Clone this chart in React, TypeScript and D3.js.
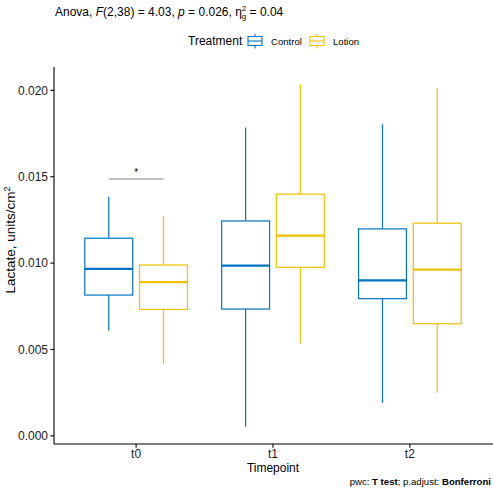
import React from "react";
import * as d3 from "d3";

const timepoints = ["t0", "t1", "t2"];
const treatments = ["Control", "Lotion"];
const colors = ["#0073C2", "#EFC000"];

// [whiskerLow, Q1, median, Q3, whiskerHigh] per timepoint
const controlStats = [
  [0.00608, 0.00815, 0.00966, 0.01144, 0.01385],
  [0.00052, 0.00734, 0.00985, 0.01244, 0.01785],
  [0.00191, 0.00794, 0.00900, 0.01198, 0.01804],
];
const lotionStats = [
  [0.00415, 0.00732, 0.00890, 0.00989, 0.01273],
  [0.00535, 0.00976, 0.01159, 0.01399, 0.02036],
  [0.00249, 0.00649, 0.00962, 0.01231, 0.02013],
];
const yTicks = [0, 0.005, 0.01, 0.015, 0.02];
const sigBar = { timepoint: "t0", y: 0.01487, label: "*" };

const W = 493;
const H = 491;
const panel = { left: 54, right: 492, top: 67, bottom: 444 };
const font = "'Liberation Sans', Arial, Helvetica, sans-serif";

export default function App() {
  const allVals = [...controlStats.flat(), ...lotionStats.flat()];
  const mn = d3.min(allVals) as number;
  const mx = d3.max(allVals) as number;
  const pad = (mx - mn) * 0.05;
  const y = d3.scaleLinear().domain([mn - pad, mx + pad]).range([panel.bottom, panel.top]);
  const x = d3.scalePoint<string>().domain(timepoints).range([panel.left, panel.right]).padding(0.6);
  const step = x.step();
  const dodge = 0.2 * step;
  const halfW = 0.175 * step;
  const series = [controlStats, lotionStats];

  return (
    <div style={{ position: "absolute", left: 0, top: 0 }}>
      <svg width={W} height={H} style={{ display: "block", fontFamily: font }}>
        <rect width={W} height={H} fill="white" />
        {/* title */}
        <text x={55} y={16} fontSize={12} fill="#000">
          Anova, <tspan fontStyle="italic">F</tspan>(2,38) = 4.03, <tspan fontStyle="italic">p</tspan> = 0.026, η
          <tspan dy={-5} fontSize={8}>2</tspan>
          <tspan dx={-4.5} dy={8} fontSize={8}>g</tspan>
          <tspan dy={-3}> = 0.04</tspan>
        </text>
        {/* legend */}
        <text x={188} y={45} fontSize={12} fill="#000">Treatment</text>
        {treatments.map((t, i) => {
          const kx = i === 0 ? 248 : 310;
          return (
            <g key={t}>
              <line x1={kx + 7} x2={kx + 7} y1={34} y2={48.5} stroke={colors[i]} strokeWidth={1.1} />
              <rect x={kx} y={36.5} width={14} height={9} fill="white" stroke={colors[i]} strokeWidth={1.1} />
              <line x1={kx} x2={kx + 14} y1={41} y2={41} stroke={colors[i]} strokeWidth={1.1} />
              <text x={kx + 23} y={44.5} fontSize={9.6} fill="#000">{t}</text>
            </g>
          );
        })}
        {/* boxes */}
        {series.map((stats, si) =>
          stats.map((s, ti) => {
            const cx = (x(timepoints[ti]) as number) + (si === 0 ? -dodge : dodge);
            const c = colors[si];
            return (
              <g key={`${si}-${ti}`}>
                <line x1={cx} x2={cx} y1={y(s[0])} y2={y(s[1])} stroke={c} strokeWidth={1.2} />
                <line x1={cx} x2={cx} y1={y(s[3])} y2={y(s[4])} stroke={c} strokeWidth={1.2} />
                <rect x={cx - halfW} y={y(s[3])} width={2 * halfW} height={y(s[1]) - y(s[3])} fill="white" stroke={c} strokeWidth={1.2} />
                <line x1={cx - halfW} x2={cx + halfW} y1={y(s[2])} y2={y(s[2])} stroke={c} strokeWidth={2.3} />
              </g>
            );
          })
        )}
        {/* significance */}
        <line
          x1={(x(sigBar.timepoint) as number) - dodge}
          x2={(x(sigBar.timepoint) as number) + dodge}
          y1={y(sigBar.y)}
          y2={y(sigBar.y)}
          stroke="#808080"
          strokeWidth={1.1}
        />
        <text x={x(sigBar.timepoint) as number} y={y(sigBar.y) - 3} fontSize={10} textAnchor="middle" fill="#000">
          {sigBar.label}
        </text>
        {/* axes */}
        <line x1={panel.left} x2={panel.left} y1={panel.top} y2={panel.bottom} stroke="#000" strokeWidth={1.1} />
        <line x1={panel.left} x2={panel.right + 1} y1={panel.bottom} y2={panel.bottom} stroke="#000" strokeWidth={1.1} />
        {yTicks.map((t) => (
          <g key={t}>
            <line x1={panel.left - 3.7} x2={panel.left} y1={y(t)} y2={y(t)} stroke="#000" strokeWidth={1.1} />
            <text x={panel.left - 6} y={y(t)} dy="0.35em" fontSize={12} textAnchor="end" fill="#1a1a1a">
              {d3.format(".3f")(t)}
            </text>
          </g>
        ))}
        {timepoints.map((t) => (
          <g key={t}>
            <line x1={x(t) as number} x2={x(t) as number} y1={panel.bottom} y2={panel.bottom + 3.7} stroke="#000" strokeWidth={1.1} />
            <text x={x(t) as number} y={457.5} fontSize={12} textAnchor="middle" fill="#1a1a1a">{t}</text>
          </g>
        ))}
        <text x={(panel.left + panel.right) / 2} y={472} fontSize={12} textAnchor="middle" fill="#000">Timepoint</text>
        <text transform={`translate(15, 240) rotate(-90)`} fontSize={13.5} textAnchor="middle" fill="#000">
          Lactate, units/cm<tspan dy={-5} fontSize={9}>2</tspan>
        </text>
        {/* caption */}
        <text x={491} y={485} fontSize={9.6} textAnchor="end" fill="#000">
          pwc: <tspan fontWeight="bold">T test</tspan>; p.adjust: <tspan fontWeight="bold">Bonferroni</tspan>
        </text>
      </svg>
    </div>
  );
}
